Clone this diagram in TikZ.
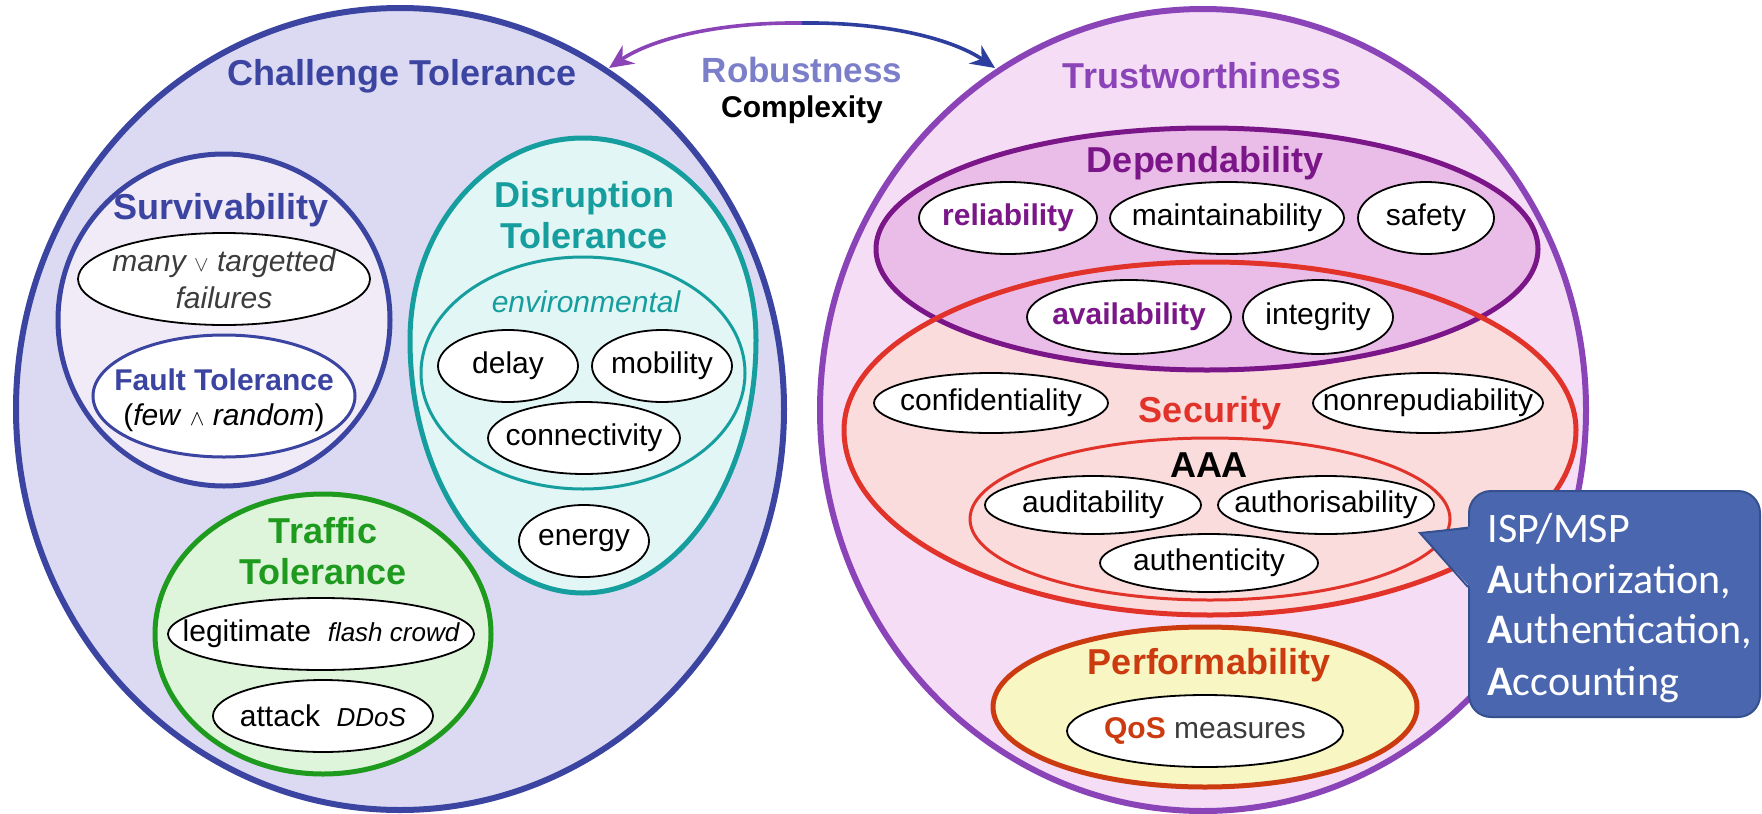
\documentclass[tikz,border=0pt]{standalone}
\usepackage{fontspec}
\setmainfont{Liberation Sans}
\newfontfamily\calib{Carlito}
\usetikzlibrary{shapes.geometric,arrows.meta}
\definecolor{cblue}{HTML}{3B44A0}
\definecolor{leftF}{HTML}{DCDAF3}
\definecolor{survF}{HTML}{F1EBF8}
\definecolor{disC}{HTML}{169E9E}
\definecolor{disF}{HTML}{E2F6F5}
\definecolor{traC}{HTML}{1E9A1E}
\definecolor{traF}{HTML}{DFF5DB}
\definecolor{trustC}{HTML}{8A44B8}
\definecolor{trustF}{HTML}{F6DDF6}
\definecolor{depC}{HTML}{7B1689}
\definecolor{depF}{HTML}{EABCE8}
\definecolor{secC}{HTML}{E2332B}
\definecolor{secF}{HTML}{FADCDC}
\definecolor{perfC}{HTML}{CC3A10}
\definecolor{perfF}{HTML}{F8F6C2}
\definecolor{calF}{HTML}{4A66AE}
\definecolor{calD}{HTML}{35508F}
\definecolor{robC}{HTML}{7B7EC8}
\definecolor{grayT}{HTML}{3C3C3C}
\definecolor{arB}{HTML}{2E3E9E}
\newcommand\eggpath[6]{%
\pgfmathsetmacro\eggXa{#2+0.5523*#5}%
\pgfmathsetmacro\eggXb{#2-0.5523*#5}%
\pgfmathsetmacro\eggYa{#6-0.5523*(#6-#3)}%
\pgfmathsetmacro\eggYb{#6+0.5523*(#4-#6)}%
\pgfmathsetmacro\eggR{#2+#5}%
\pgfmathsetmacro\eggL{#2-#5}%
\path[#1] (#2,#3) .. controls (\eggXa,#3) and (\eggR,\eggYa) .. (\eggR,#6) .. controls (\eggR,\eggYb) and (\eggXa,#4) .. (#2,#4) .. controls (\eggXb,#4) and (\eggL,\eggYb) .. (\eggL,#6) .. controls (\eggL,\eggYa) and (\eggXb,#3) .. cycle;}
\newcommand\itm[7]{%
\node[item, minimum width=#4pt, minimum height=#5pt] (#1) at (#2,#3) {};
\node[#6] at (#1.center) {#7};}
\begin{document}
\begin{tikzpicture}[x=0.5pt,y=-0.5pt,
  item/.style={ellipse, draw=black, line width=0.9pt, fill=white, inner sep=0pt},
  cont/.style={ellipse, inner sep=0pt},
  it/.style={font=\fontsize{15}{18.5}\selectfont, inner sep=0pt, align=center},
  itb/.style={font=\bfseries\fontsize{15}{18.5}\selectfont, inner sep=0pt},
  ttl/.style={font=\bfseries\fontsize{18}{20.5}\selectfont, inner sep=0pt, align=center},
  arr/.style={line width=1.8pt, -{Stealth[length=12pt,width=11pt]}}]
\useasboundingbox (0,0) rectangle (1762,814);
\fill[white] (0,0) rectangle (1762,814);
% outer eggs
\node[cont, draw=cblue, fill=leftF, line width=3pt, minimum width=384pt, minimum height=401pt] (ct) at (400,409) {};
\node[cont, draw=trustC, fill=trustF, line width=3pt, minimum width=383pt, minimum height=401pt] (tw) at (1203,410) {};
% arrow
\coordinate (arL) at (609,68);
\coordinate (arM) at (802,23);
\coordinate (arR) at (995,68);
\draw[arr, trustC] (arM) .. controls (715,22) and (650,40) .. (arL);
\draw[arr, arB] (arM) .. controls (889,22) and (954,40) .. (arR);
\node[font=\bfseries\fontsize{17.5}{20}\selectfont, text=robC, inner sep=0pt] (rob) at (802,70) {Robustness};
\node[font=\bfseries\fontsize{15}{18}\selectfont, inner sep=0pt] (cpx) at (802,110) {Complexity};
\node[ttl, text=cblue] (ctT) at (402,76) {Challenge Tolerance};
\node[ttl, text=trustC] (twT) at (1202,76) {Trustworthiness};
% Survivability
\node[cont, draw=cblue, fill=survF, line width=2.5pt, minimum width=166pt, minimum height=166pt] (surv) at (224,320) {};
\node[ttl, text=cblue] (survT) at (221,210) {Survivability};
\itm{many}{224}{279}{146}{46}{it, text=grayT}{\itshape many $\scriptstyle\vee$ targetted\\\itshape failures}
\node[cont, draw=cblue, fill=white, line width=1.5pt, minimum width=131pt, minimum height=61pt] (fault) at (224,396) {};
\node[itb, text=cblue] (faultT) at (224,380) {Fault Tolerance};
\node[it] (faultS) at (224,418) {(\textit{few} $\scriptstyle\wedge$ \textit{random})};
% Disruption
\eggpath{draw=disC, fill=disF, line width=2.5pt}{583}{138}{593}{173}{340}
\node[ttl, text=disC] (disT) at (584,215) {Disruption\\Tolerance};
\node[cont, draw=disC, fill=disF, line width=1.5pt, minimum width=162pt, minimum height=116pt] (env) at (583,373) {};
\node[it, text=disC, font=\itshape\fontsize{15}{18}\selectfont] (envT) at (586,302) {environmental};
\itm{delay}{508}{366}{70}{36}{it}{delay}
\itm{mob}{662}{366}{70}{36}{it}{mobility}
\itm{conn}{584}{438}{96}{36}{it}{connectivity}
\itm{energy}{584}{541}{65}{36}{it}{energy}
% Traffic
\node[cont, draw=traC, fill=traF, line width=2.5pt, minimum width=168pt, minimum height=140pt] (traf) at (323,634) {};
\node[ttl, text=traC] (trafT) at (323,551) {Traffic\\Tolerance};
\itm{legit}{321}{634}{153}{36}{it}{legitimate~~{\itshape\fontsize{13}{15}\selectfont flash crowd}}
\itm{attack}{323}{716}{110}{36}{it}{attack~~{\itshape\fontsize{13}{15}\selectfont DDoS}}
% Security and Dependability
\eggpath{fill=secF}{1210}{262}{615}{366}{430}
\node[cont, draw=depC, fill=depF, line width=2.5pt, minimum width=331pt, minimum height=121pt] (dep) at (1207,249) {};
\eggpath{draw=secC, line width=2.5pt}{1210}{262}{615}{366}{430}
\node[ttl, text=depC] (depT) at (1205,163) {Dependability};
\itm{rel}{1008}{218}{89}{36}{itb, text=depC}{reliability}
\itm{maint}{1227}{218}{117}{36}{it}{maintainability}
\itm{safety}{1426}{218}{68}{36}{it}{safety}
\itm{avail}{1129}{317}{102}{37}{itb, text=depC}{availability}
\itm{integ}{1318}{317}{75}{37}{it}{integrity}
\node[ttl, text=secC] (secT) at (1210,413) {Security};
\itm{conf}{991}{403}{117}{30}{it}{confidentiality}
\itm{nonrep}{1428}{403}{115}{30}{it}{nonrepudiability}
\node[cont, draw=secC, fill=secF, line width=1.5pt, minimum width=240pt, minimum height=81pt] (aaa) at (1210,519) {};
\node[ttl] (aaaT) at (1209,465) {AAA};
\itm{audit}{1093}{505}{108}{29}{it}{auditability}
\itm{authz}{1326}{505}{108}{29}{it}{authorisability}
\itm{authn}{1209}{563}{109}{29}{it}{authenticity}
% Performability
\node[cont, draw=perfC, fill=perfF, line width=2.5pt, minimum width=212pt, minimum height=80pt] (perf) at (1205,707) {};
\node[ttl, text=perfC] (perfT) at (1209,665) {Performability};
\itm{qos}{1205}{731}{138}{36}{it}{{\bfseries\color{perfC}QoS} \color{grayT}measures}
% callout
\node[draw=calD, fill=calF, line width=1pt, rounded corners=11pt, minimum width=145.5pt, minimum height=113pt, inner sep=0pt] (call) at (1614.5,604) {};
\fill[calF] (1472,526) -- (1420,533) -- (1472,589) -- cycle;
\draw[calD, line width=1pt] (call.west |- 0,528) -- (1420,533) -- (call.west |- 0,587);
\begin{scope}[every node/.style={anchor=base west, inner sep=0pt, text=white, font=\calib\fontsize{21}{25}\selectfont}]
\node (c1) at (1487,542) {ISP/MSP};
\node (c2) at (1487,593) {\textbf{A}uthorization,};
\node (c3) at (1487,643) {\textbf{A}uthentication,};
\node (c4) at (1487,695) {\textbf{A}ccounting};
\end{scope}
\end{tikzpicture}
\end{document}
